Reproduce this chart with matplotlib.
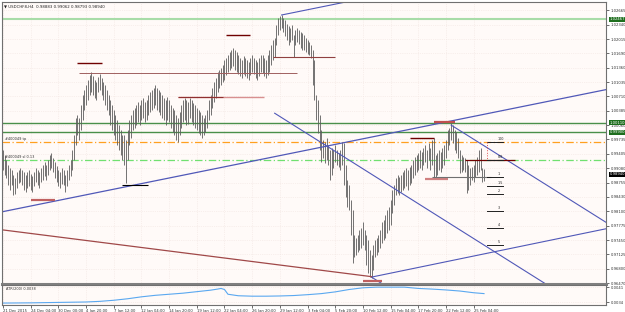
import matplotlib.pyplot as plt
import numpy as np

# USDCHF H4 bars, 21 Dec 2015 .. 25 Feb 2016
bar_high = [
    0.9950, 0.9938, 0.9927, 0.9915, 0.9909, 0.9904, 0.9893, 0.9886, 0.9900, 0.9904,
    0.9909, 0.9904, 0.9900, 0.9893, 0.9900, 0.9904, 0.9895, 0.9890, 0.9900, 0.9909,
    0.9904, 0.9900, 0.9909, 0.9915, 0.9922, 0.9915, 0.9927, 0.9938, 0.9943, 0.9931,
    0.9922, 0.9913, 0.9904, 0.9900, 0.9909, 0.9904, 0.9893, 0.9904, 0.9915, 0.9927,
    0.9950, 0.9984, 1.0022, 1.0029, 1.0022, 1.0052, 1.0074, 1.0086, 1.0097, 1.0108,
    1.0120, 1.0127, 1.0117, 1.0108, 1.0104, 1.0115, 1.0122, 1.0113, 1.0104, 1.0097,
    1.0086, 1.0074, 1.0063, 1.0052, 1.0040, 1.0029, 1.0017, 1.0006, 0.9995, 0.9984,
    0.9984, 0.9972, 0.9995, 1.0017, 1.0029, 1.0040, 1.0045, 1.0052, 1.0058, 1.0052,
    1.0063, 1.0068, 1.0058, 1.0063, 1.0074, 1.0081, 1.0086, 1.0090, 1.0097, 1.0090,
    1.0086, 1.0081, 1.0074, 1.0068, 1.0063, 1.0070, 1.0063, 1.0052, 1.0045, 1.0040,
    1.0029, 1.0022, 1.0036, 1.0052, 1.0063, 1.0068, 1.0063, 1.0058, 1.0068, 1.0063,
    1.0056, 1.0052, 1.0045, 1.0040, 1.0036, 1.0029, 1.0022, 1.0029, 1.0040, 1.0063,
    1.0074, 1.0090, 1.0104, 1.0113, 1.0127, 1.0131, 1.0136, 1.0142, 1.0154, 1.0158,
    1.0165, 1.0172, 1.0177, 1.0181, 1.0177, 1.0172, 1.0165, 1.0158, 1.0154, 1.0163,
    1.0158, 1.0154, 1.0149, 1.0158, 1.0165, 1.0158, 1.0154, 1.0149, 1.0158, 1.0165,
    1.0165, 1.0158, 1.0154, 1.0165, 1.0177, 1.0188, 1.0199, 1.0204, 1.0233, 1.0249,
    1.0254, 1.0256, 1.0249, 1.0245, 1.0236, 1.0231, 1.0226, 1.0233, 1.0211, 1.0222,
    1.0226, 1.0222, 1.0217, 1.0215, 1.0211, 1.0204, 1.0199, 1.0195, 1.0188, 1.0177,
    1.0154, 1.0074, 1.0063, 1.0029, 0.9995, 0.9972, 0.9968, 0.9977, 0.9961, 0.9950,
    0.9954, 0.9950, 0.9961, 0.9950, 0.9943, 0.9950, 0.9968, 0.9965, 0.9915, 0.9881,
    0.9870, 0.9836, 0.9813, 0.9757, 0.9750, 0.9757, 0.9768, 0.9772, 0.9786, 0.9768,
    0.9757, 0.9745, 0.9722, 0.9711, 0.9734, 0.9745, 0.9750, 0.9757, 0.9768, 0.9786,
    0.9790, 0.9802, 0.9813, 0.9820, 0.9836, 0.9859, 0.9870, 0.9886, 0.9893, 0.9888,
    0.9893, 0.9900, 0.9904, 0.9909, 0.9904, 0.9911, 0.9915, 0.9927, 0.9934, 0.9938,
    0.9943, 0.9950, 0.9945, 0.9954, 0.9961, 0.9950, 0.9965, 0.9954, 0.9972, 0.9977,
    0.9938, 0.9943, 0.9950, 0.9945, 0.9954, 0.9961, 0.9972, 0.9995, 0.9999, 1.0011,
    1.0006, 0.9995, 0.9990, 0.9977, 0.9950, 0.9938, 0.9934, 0.9931, 0.9927, 0.9915,
    0.9909, 0.9911, 0.9915, 0.9927, 0.9934, 0.9950, 0.9954, 0.9909, 0.9906,
]
bar_low = [
    0.9904, 0.9893, 0.9886, 0.9870, 0.9859, 0.9870, 0.9847, 0.9850, 0.9863, 0.9874,
    0.9877, 0.9870, 0.9859, 0.9854, 0.9863, 0.9868, 0.9859, 0.9854, 0.9868, 0.9877,
    0.9870, 0.9863, 0.9877, 0.9881, 0.9890, 0.9881, 0.9893, 0.9904, 0.9909, 0.9900,
    0.9886, 0.9877, 0.9868, 0.9863, 0.9872, 0.9870, 0.9854, 0.9868, 0.9881, 0.9890,
    0.9904, 0.9927, 0.9961, 0.9984, 0.9972, 0.9995, 1.0017, 1.0040, 1.0052, 1.0063,
    1.0074, 1.0081, 1.0074, 1.0068, 1.0063, 1.0081, 1.0086, 1.0074, 1.0063, 1.0052,
    1.0040, 1.0029, 1.0006, 0.9995, 0.9984, 0.9972, 0.9961, 0.9950, 0.9938, 0.9927,
    0.9915, 0.9874, 0.9927, 0.9961, 0.9977, 0.9995, 0.9999, 1.0006, 1.0013, 1.0006,
    1.0017, 1.0022, 1.0013, 1.0017, 1.0029, 1.0036, 1.0040, 1.0045, 1.0052, 1.0040,
    1.0036, 1.0029, 1.0022, 1.0017, 1.0006, 1.0017, 1.0013, 0.9999, 0.9990, 0.9984,
    0.9972, 0.9968, 0.9984, 0.9999, 1.0013, 1.0017, 1.0006, 1.0009, 1.0022, 1.0013,
    1.0006, 0.9999, 0.9995, 0.9988, 0.9984, 0.9977, 0.9984, 0.9990, 0.9999, 1.0017,
    1.0029, 1.0045, 1.0058, 1.0068, 1.0081, 1.0090, 1.0097, 1.0104, 1.0108, 1.0120,
    1.0127, 1.0131, 1.0136, 1.0140, 1.0131, 1.0127, 1.0122, 1.0117, 1.0113, 1.0122,
    1.0117, 1.0113, 1.0108, 1.0120, 1.0127, 1.0122, 1.0113, 1.0108, 1.0117, 1.0127,
    1.0124, 1.0117, 1.0113, 1.0120, 1.0127, 1.0142, 1.0154, 1.0161, 1.0188, 1.0211,
    1.0222, 1.0226, 1.0217, 1.0208, 1.0199, 1.0188, 1.0195, 1.0199, 1.0161, 1.0188,
    1.0195, 1.0190, 1.0181, 1.0177, 1.0177, 1.0172, 1.0167, 1.0165, 1.0158, 1.0097,
    1.0063, 1.0017, 0.9988, 0.9950, 0.9922, 0.9931, 0.9920, 0.9927, 0.9915, 0.9881,
    0.9893, 0.9909, 0.9922, 0.9915, 0.9911, 0.9904, 0.9915, 0.9870, 0.9843, 0.9820,
    0.9813, 0.9757, 0.9693, 0.9707, 0.9711, 0.9718, 0.9722, 0.9727, 0.9734, 0.9722,
    0.9688, 0.9670, 0.9661, 0.9659, 0.9677, 0.9707, 0.9711, 0.9718, 0.9727, 0.9738,
    0.9745, 0.9750, 0.9761, 0.9768, 0.9779, 0.9806, 0.9825, 0.9847, 0.9852, 0.9847,
    0.9854, 0.9859, 0.9863, 0.9868, 0.9859, 0.9870, 0.9874, 0.9886, 0.9893, 0.9900,
    0.9904, 0.9909, 0.9904, 0.9915, 0.9922, 0.9909, 0.9927, 0.9904, 0.9915, 0.9888,
    0.9888, 0.9893, 0.9904, 0.9900, 0.9909, 0.9915, 0.9931, 0.9950, 0.9961, 0.9972,
    0.9965, 0.9950, 0.9943, 0.9931, 0.9897, 0.9900, 0.9904, 0.9900, 0.9852, 0.9859,
    0.9870, 0.9881, 0.9877, 0.9888, 0.9893, 0.9900, 0.9904, 0.9877, 0.9879,
]

# ATR(200) sampled at these bars
atr_bars = [0, 16, 32, 48, 56, 64, 72, 80, 88, 96, 104, 112, 120, 124, 126, 128, 130,
            136, 144, 152, 160, 168, 176, 184, 192, 200, 208, 216, 224, 232, 240, 248,
            256, 264, 272, 278]
atr_vals = [0.00337, 0.00338, 0.00340, 0.00342, 0.00345, 0.00350, 0.00357, 0.00366,
            0.00373, 0.00378, 0.00383, 0.00390, 0.00397, 0.00402, 0.00405, 0.00400,
            0.00378, 0.00371, 0.00369, 0.00369, 0.00370, 0.00372, 0.00376, 0.00381,
            0.00389, 0.00400, 0.00408, 0.00411, 0.00411, 0.00411, 0.00405, 0.00402,
            0.00398, 0.00393, 0.00385, 0.00381]

date_labels = ["21 Dec 2015", "24 Dec 04:00", "30 Dec 00:00", "4 Jan 20:00", "7 Jan 12:00",
               "12 Jan 04:00", "14 Jan 20:00", "19 Jan 12:00", "22 Jan 04:00", "26 Jan 20:00",
               "29 Jan 12:00", "3 Feb 04:00", "5 Feb 20:00", "10 Feb 12:00", "15 Feb 04:00",
               "17 Feb 20:00", "22 Feb 12:00", "25 Feb 04:00"]
price_ticks = [1.02665, 1.02340, 1.02015, 1.01690, 1.01360, 1.01035, 1.00710, 1.00385,
               1.00060, 0.99735, 0.99405, 0.99080, 0.98755, 0.98430, 0.98100, 0.97775,
               0.97450, 0.97125, 0.96800, 0.96470]

# drawn objects: trend lines (bar, price) pairs
channel_low = ([8, 305], [0.9816, 1.0052])
channel_high = ([161, 205], [1.0256, 1.0291])
fall_a = ([157, 330], [1.0033, 0.9605])
fall_b = ([259, 360], [1.0006, 0.9757])
fall_c = ([213, 225], [0.9661, 0.9631])
rise_c = ([213, 360], [0.9661, 0.9780])
red_line = ([0, 213], [0.9768, 0.9662])

# short horizontal levels: start bar, end bar, price, colour, width
short_levels = [
    (43, 57, 1.0148, "#700000", 1.0),
    (44, 170, 1.0124, "#a06060", 0.7),
    (129, 143, 1.0211, "#700000", 1.0),
    (156, 192, 1.0160, "#904040", 0.8),
    (101, 151, 1.0070, "#d89090", 1.0),
    (101, 127, 1.0070, "#903030", 0.8),
    (69, 84, 0.9870, "#000000", 0.8),
    (16, 30, 0.9836, "#c06060", 1.6),
    (235, 249, 0.9976, "#700000", 1.0),
    (249, 261, 1.0012, "#c05050", 1.6),
    (244, 257, 0.9883, "#d08080", 1.6),
    (248, 282, 0.9889, "#707070", 0.8),
    (267, 296, 0.9927, "#700000", 0.9),
    (208, 219, 0.9652, "#c06060", 1.6),
]

fib_names = ["100", "8/8", "1", "1.5", "2", "3", "4", "5"]
fib_prices = [0.9967, 0.9927, 0.9889, 0.9868, 0.9849, 0.9812, 0.9773, 0.9734]

FS = 2.7
W, H = 625, 312
fig = plt.figure(figsize=(W / 100, H / 100), dpi=100)
fig.patch.set_facecolor("white")
ax = fig.add_axes([2 / W, 1 - 284 / H, 604 / W, 282 / H])
axs = fig.add_axes([2 / W, 1 - 305 / H, 604 / W, 20 / H])
bg = "#fffaf8"
grid_c = "#f1e4e0"
for a in (ax, axs):
    a.set_facecolor(bg)
    a.set_xlim(-0.6, 348.5)
    a.set_xticks(np.arange(len(date_labels)) * 16)
    a.grid(True, color=grid_c, ls=":", lw=0.5)
    a.set_axisbelow(True)
    for s in a.spines.values():
        s.set_color("#707070")
        s.set_linewidth(0.8)
    a.yaxis.tick_right()
    a.tick_params(axis="both", labelsize=FS, length=2, width=0.5, pad=1.5, colors="#303030")

ax.set_ylim(0.96453, 1.02855)
ax.set_yticks(price_ticks)
ax.set_yticklabels([f"{p:.5f}" for p in price_ticks])
ax.tick_params(axis="x", labelbottom=False, length=0)
ax.spines["bottom"].set_linewidth(2.2)
ax.spines["bottom"].set_color("#808080")

# horizontal levels across the whole chart
ax.axhline(1.02467, color="#a8dca8", lw=1.5)
ax.axhline(1.00110, color="#4a8f4a", lw=1.0)
ax.axhline(0.99900, color="#4a8f4a", lw=1.0)
ax.axhline(0.9967, color="#ffa020", lw=0.9, ls=(0, (6, 2, 1, 2)))
ax.axhline(0.9926, color="#70e070", lw=0.9, ls=(0, (6, 2, 1, 2)))
ax.text(1, 0.9970, "#400049 tp", fontsize=2.5, color="#303030", va="bottom")
ax.text(1, 0.9929, "#400049 sl 0.13", fontsize=2.5, color="#303030", va="bottom")

# bars
x = np.arange(len(bar_high))
ax.vlines(x, bar_low, bar_high, color="#5c5c5c", lw=0.6)

# trend lines
ln = "#5058b8"
ax.axline((channel_low[0][0], channel_low[1][0]), (channel_low[0][1], channel_low[1][1]),
          color=ln, lw=0.9)
for tl in (channel_high, fall_a, fall_b, fall_c, rise_c):
    ax.plot(tl[0], tl[1], color=ln, lw=0.8)
ax.plot(red_line[0], red_line[1], color="#a04848", lw=0.9)

for b0, b1, p, c, w in short_levels:
    ax.plot([b0, b1], [p, p], color=c, lw=w, solid_capstyle="butt")

# level ladder on the right
for name, p in zip(fib_names, fib_prices):
    ax.plot([280, 289], [p, p], color="#202020", lw=0.7)
    ax.text(286, p + 0.0002, name, fontsize=2.4, color="#202020", va="bottom")
ax.plot([280, 280], [fib_prices[0], fib_prices[1]], color="#e05050", lw=0.7, ls=":")

# highlighted price labels on the scale
tr = ax.get_yaxis_transform()
for p, fc in [(1.02467, "#1e6e1e"), (1.00110, "#1e6e1e"), (0.99900, "#1e6e1e"), (0.98940, "#000000")]:
    ax.text(1.006, p, f"{p:.5f}", transform=tr, fontsize=FS, color="white", va="center",
            ha="left", bbox=dict(boxstyle="square,pad=0.15", fc=fc, ec="none"), clip_on=False)

fig.text(4 / W, 1 - 7 / H, "\u25bc USDCHF8,H4  0.98883 0.99062 0.98793 0.98940",
         fontsize=2.8, color="#202020", va="center")

# ATR sub window
axs.plot(atr_bars, atr_vals, color="#5aa8f0", lw=0.8)
axs.set_ylim(0.00328, 0.00421)
axs.set_yticks([0.0041, 0.0034])
axs.set_yticklabels(["0.0041", "0.0034"])
axs.set_xticklabels(date_labels, ha="left")
axs.tick_params(axis="x", length=2, pad=0.8)
axs.text(2, 0.00412, "ATR(200) 0.0038", fontsize=2.5, color="#303030", va="top")

fig.savefig("out.png", dpi=100, facecolor="white")
